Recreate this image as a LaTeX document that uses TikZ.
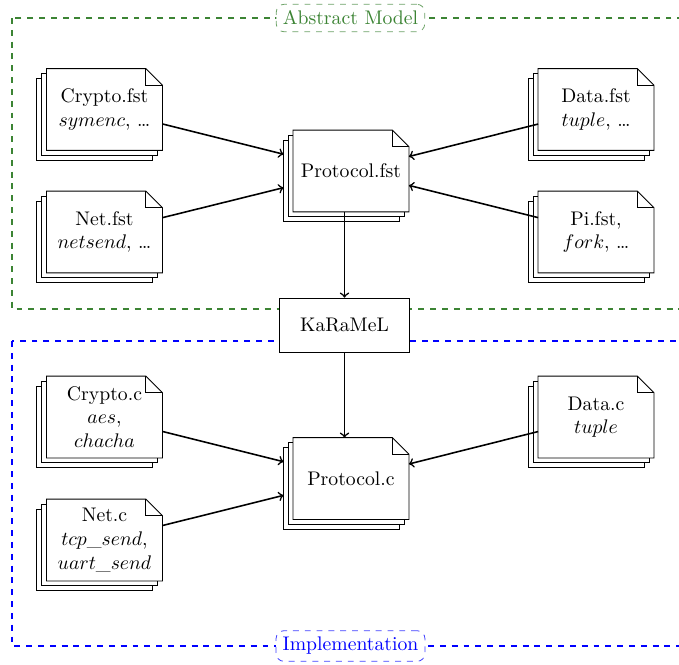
\documentclass[tikz,border=0pt]{standalone}
\usepackage{amsmath}
\usepackage{tikz}
\usetikzlibrary{arrows}

\definecolor{modelgreen}{RGB}{60,132,52}
\definecolor{implblue}{RGB}{0,0,255}

% page with two pages behind it and a folded corner
\newcommand{\docear}{8.4pt}
\newcommand{\docoff}{2.5pt}
\newcommand{\drawdoc}[1]{%
  \draw[fill=white] ([shift={(-2*\docoff,-2*\docoff)}]#1.south west) rectangle ([shift={(-2*\docoff,-2*\docoff)}]#1.north east);
  \draw[fill=white] ([shift={(-\docoff,-\docoff)}]#1.south west) rectangle ([shift={(-\docoff,-\docoff)}]#1.north east);
  \fill[white] (#1.south west) rectangle (#1.north east);
  \draw (#1.south west) -- (#1.north west) -- ([xshift=-\docear]#1.north east)
    -- ([yshift=-\docear]#1.north east) -- (#1.south east) -- cycle;
  \draw ([xshift=-\docear]#1.north east) -- ([shift={(-\docear,-\docear)}]#1.north east)
    -- ([yshift=-\docear]#1.north east);
}

\tikzset{
  srcfile/.style={minimum width=58.4pt, minimum height=41.1pt, inner sep=0pt, align=center,
    append after command={\pgfextra{\drawdoc{\tikzlastnode}}}},
  tool/.style={draw, fill=white, minimum width=66pt, minimum height=27.4pt},
  layer/.style={dashed, semithick},
  layertag/.style={dashed, rounded corners, fill=white},
  flow/.style={->, thick},
}

\begin{document}
\begin{tikzpicture}[x=0.5076pt, y=-0.5076pt]
\useasboundingbox (0,0) rectangle (679,664);

% the two layers
\draw[layer, modelgreen] (12,18) rectangle (689,309);
\node[layertag, draw=modelgreen!75, text=modelgreen] (abstract) at (350.5,18) {Abstract Model};
\draw[layer, implblue] (12,341) rectangle (689,646);
\node[layertag, draw=implblue!75, text=implblue] (impl) at (350.5,646) {Implementation};

% F* sources
\node[srcfile] (cryptofst) at (104.5,109.5) {Crypto.fst\\ $symenc$, \dots};
\node[srcfile] (netfst) at (104.5,232) {Net.fst\\ $netsend$, \dots};
\node[srcfile] (datafst) at (596,109.5) {Data.fst\\ $tuple$, \dots};
\node[srcfile] (pifst) at (596,232) {Pi.fst,\\ $fork$, \dots};
\node[srcfile] (protofst) at (351,171) {Protocol.fst};

\node[tool] (karamel) at (344.5,325) {KaRaMeL};

% C code
\node[srcfile] (cryptoc) at (104.5,417) {Crypto.c\\ $aes$,\\ $chacha$};
\node[srcfile] (netc) at (104.5,540) {Net.c\\ $tcp\_send$,\\ $uart\_send$};
\node[srcfile] (datac) at (596,417) {Data.c\\ $tuple$};
\node[srcfile] (protoc) at (351,478.5) {Protocol.c};

\draw[flow, shorten >=5pt] (cryptofst) -- (protofst);
\draw[flow, shorten >=5pt] (netfst) -- (protofst);
\draw[flow] (datafst) -- (protofst);
\draw[flow] (pifst) -- (protofst);
\draw[flow] (protofst.south -| karamel.north) -- (karamel.north);
\draw[flow] (karamel.south) -- (karamel.south |- protoc.north);
\draw[flow, shorten >=5pt] (cryptoc) -- (protoc);
\draw[flow, shorten >=5pt] (netc) -- (protoc);
\draw[flow] (datac) -- (protoc);
\end{tikzpicture}
\end{document}
